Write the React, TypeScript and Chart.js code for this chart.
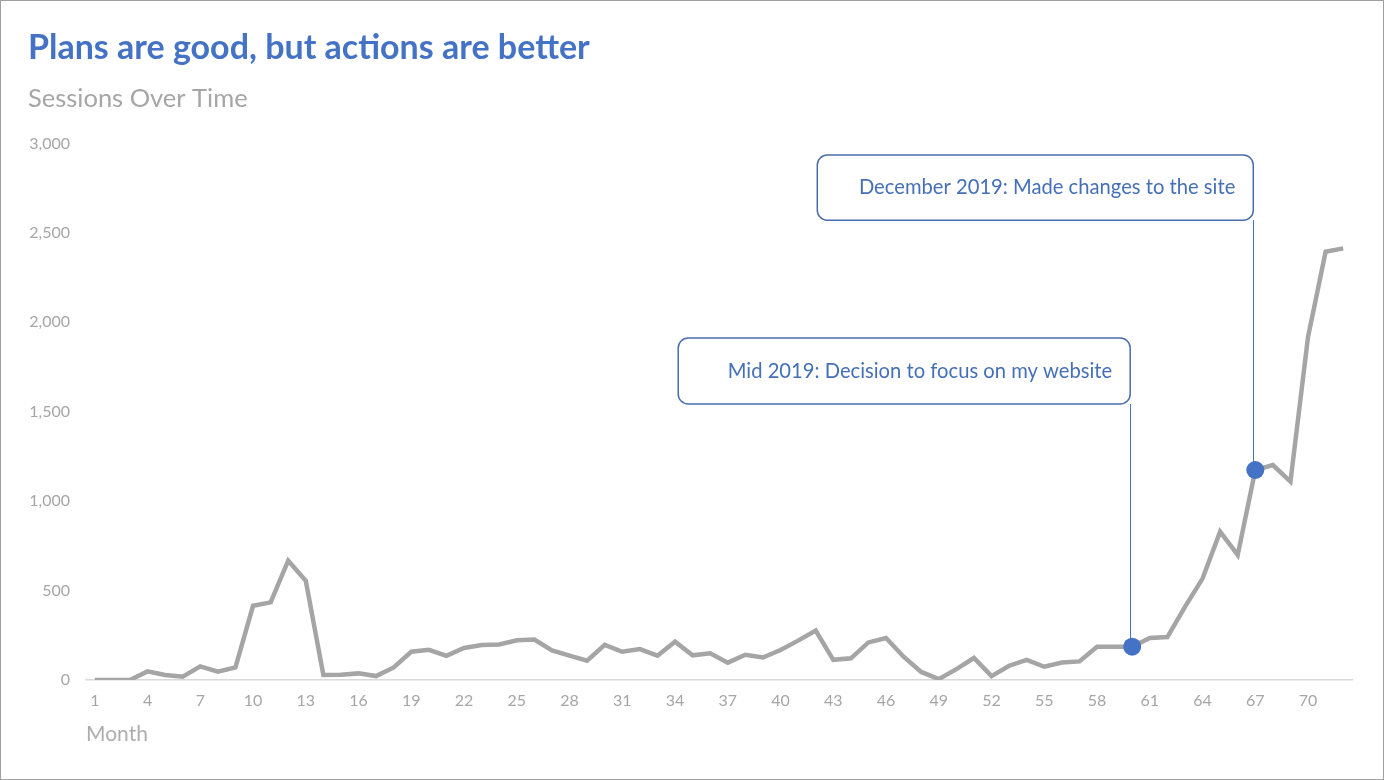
import React, { useEffect, useRef } from "react";
import { Chart, registerables } from "chart.js";

Chart.register(...registerables);

const months: string[] = Array.from({ length: 72 }, (_, i) => String(i + 1));
const sessions: number[] = [
  0, 0, 0, 48, 28, 18, 76, 46, 70, 415, 434, 667, 555, 28, 30, 37, 22, 70,
  158, 169, 135, 179, 196, 199, 222, 226, 166, 136, 108, 196, 158, 173, 136, 214,
  138, 149, 97, 141, 126, 168, 220, 276, 113, 121, 210, 235, 130, 45, 5, 61,
  123, 22, 80, 113, 74, 98, 104, 186, 186, 186, 235, 240, 409, 567, 829, 699,
  1174, 1202, 1109, 1919, 2394, 2413,
];
const highlightMonths: number[] = [60, 67];
const noteTexts: string[] = [
  "Mid 2019: Decision to focus on my website",
  "December 2019: Made changes to the site",
];
const noteTopValues: number[] = [1912, 2935];
const noteBottomValues: number[] = [1543, 2571];
const noteWidths: number[] = [452, 436];
const yTicks: number[] = [0, 500, 1000, 1500, 2000, 2500, 3000];

const TITLE = "Plans are good, but actions are better";
const SUBTITLE = "Sessions Over Time";
const BLUE = "#4472C4";
const GREY = "#A5A5A5";
const FONT = "Lato, 'Open Sans', sans-serif";

const notesPlugin = {
  id: "notes",
  beforeDatasetsDraw(chart: any) {
    const { ctx, scales } = chart;
    const xs = scales.x;
    const ys = scales.y;
    ctx.save();
    highlightMonths.forEach((m, i) => {
      const idx = months.indexOf(String(m));
      const px = xs.getPixelForValue(idx);
      const py = ys.getPixelForValue(sessions[idx]);
      const top = ys.getPixelForValue(noteTopValues[i]);
      const bottom = ys.getPixelForValue(noteBottomValues[i]);
      const right = px - 2;
      const left = right - noteWidths[i];
      ctx.strokeStyle = BLUE;
      ctx.lineWidth = 1;
      ctx.beginPath();
      ctx.moveTo(Math.round(right) + 0.5, bottom);
      ctx.lineTo(Math.round(right) + 0.5, py);
      ctx.stroke();
      const r = 10;
      ctx.beginPath();
      ctx.moveTo(left + r, top);
      ctx.lineTo(right - r, top);
      ctx.arcTo(right, top, right, top + r, r);
      ctx.lineTo(right, bottom - r);
      ctx.arcTo(right, bottom, right - r, bottom, r);
      ctx.lineTo(left + r, bottom);
      ctx.arcTo(left, bottom, left, bottom - r, r);
      ctx.lineTo(left, top + r);
      ctx.arcTo(left, top, left + r, top, r);
      ctx.closePath();
      ctx.fillStyle = "#ffffff";
      ctx.fill();
      ctx.strokeStyle = "#4A6DAE";
      ctx.lineWidth = 1.5;
      ctx.stroke();
      ctx.fillStyle = "#4570B8";
      ctx.font = `20.2px ${FONT}`;
      ctx.textAlign = "right";
      ctx.textBaseline = "middle";
      ctx.fillText(noteTexts[i], right - 18, (top + bottom) / 2);
    });
    ctx.restore();
  },
  afterDraw(chart: any) {
    const { ctx, width, height } = chart;
    ctx.save();
    ctx.strokeStyle = "#A0A0A0";
    ctx.lineWidth = 1;
    ctx.strokeRect(0.5, 0.5, width - 1, height - 1);
    ctx.restore();
  },
};

export default function App() {
  const canvasRef = useRef<HTMLCanvasElement | null>(null);

  useEffect(() => {
    if (!canvasRef.current) return;
    const chart = new Chart(canvasRef.current, {
      type: "line",
      data: {
        labels: months,
        datasets: [
          {
            label: "Sessions",
            data: sessions,
            borderColor: GREY,
            borderWidth: 4.5,
            tension: 0,
            pointRadius: months.map((m) => (highlightMonths.includes(Number(m)) ? 9 : 0)),
            pointBackgroundColor: BLUE,
            pointBorderWidth: 0,
            pointHoverRadius: 9,
          },
        ],
      },
      options: {
        animation: false,
        responsive: false,
        maintainAspectRatio: false,
        layout: { padding: { left: 28, right: 32, top: 0, bottom: 0 } },
        plugins: {
          legend: { display: false },
          tooltip: { enabled: false },
          title: {
            display: true,
            text: TITLE,
            align: "start",
            color: BLUE,
            font: { family: FONT, size: 34, weight: "bold" },
            padding: { top: 28, bottom: 0 },
          },
          subtitle: {
            display: true,
            text: SUBTITLE,
            align: "start",
            color: "#A6A6A6",
            font: { family: FONT, size: 25.5 },
            padding: { top: 15, bottom: 29 },
          },
        },
        scales: {
          x: {
            type: "category",
            offset: true,
            grid: { display: false, drawTicks: false },
            border: { display: true, color: "#D9D9D9", width: 1.5 },
            ticks: {
              autoSkip: false,
              maxRotation: 0,
              padding: 11,
              color: "#A6A6A6",
              font: { family: FONT, size: 16 },
              callback: (_v: any, i: number) => (i % 3 === 0 ? months[i] : ""),
            },
            title: {
              display: true,
              text: "Month",
              align: "start",
              color: "#ADADAD",
              font: { family: FONT, size: 21 },
              padding: { top: 0, bottom: 33 },
            },
            afterFit: (s: any) => {
              s.height = 100;
            },
          },
          y: {
            min: 0,
            max: 3000,
            grid: { display: false, drawTicks: false },
            border: { display: false },
            afterBuildTicks: (s: any) => {
              s.ticks = yTicks.map((v) => ({ value: v }));
            },
            ticks: {
              padding: 16,
              color: "#A6A6A6",
              font: { family: FONT, size: 16 },
              callback: (v: any) => Number(v).toLocaleString("en-US"),
            },
            afterFit: (s: any) => {
              s.width = 58;
            },
          },
        },
      },
      plugins: [notesPlugin],
    });
    return () => chart.destroy();
  }, []);

  return (
    <div style={{ position: "absolute", left: 0, top: 0, width: 1384, height: 780, background: "#fff" }}>
      <canvas ref={canvasRef} width={1384} height={780} style={{ display: "block" }} />
    </div>
  );
}
